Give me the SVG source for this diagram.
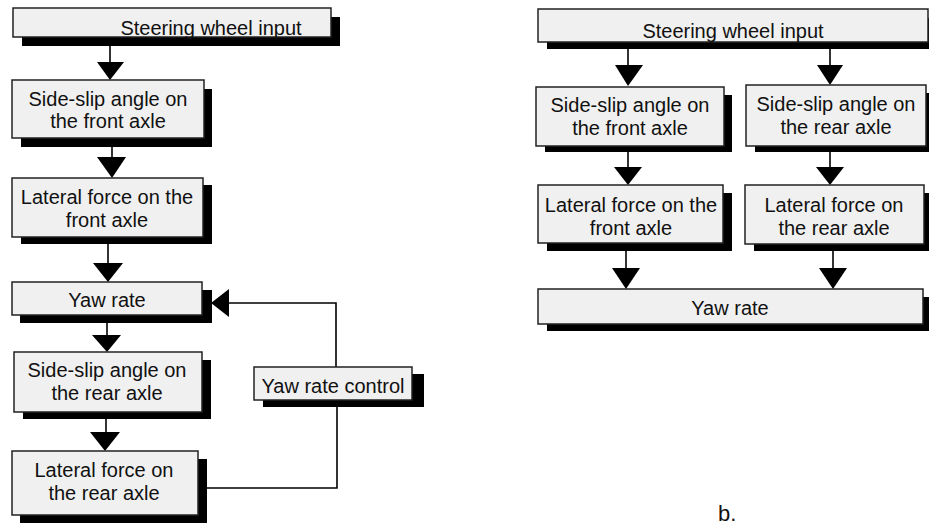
<svg xmlns="http://www.w3.org/2000/svg" width="929" height="527" viewBox="0 0 929 527">
<style>
.sh{fill:#000}
.bx{fill:#f0f0f0;stroke:#222;stroke-width:1.5}
.t{font-family:"Liberation Sans",Arial,sans-serif;font-size:20px;text-anchor:middle;fill:#111}
.ln{fill:none;stroke:#000;stroke-width:1.6}
.ah{fill:#000}
</style>
<rect width="929" height="527" fill="#fff"/>
<g id="connectors">
<line class="ln" x1="110" y1="37" x2="110" y2="63"/><polygon class="ah" points="97,62 124,62 110,80"/>
<line class="ln" x1="112" y1="138" x2="112" y2="158"/><polygon class="ah" points="97,157 126,157 112,178"/>
<line class="ln" x1="108" y1="237" x2="108" y2="264"/><polygon class="ah" points="93,263 123,263 108,282"/>
<line class="ln" x1="107" y1="315" x2="107" y2="336"/><polygon class="ah" points="92,335 121,335 107,352"/>
<line class="ln" x1="106" y1="412" x2="106" y2="433"/><polygon class="ah" points="90,432 120,432 105,451"/>
<polyline class="ln" points="229,303 336,303 336,367"/><polygon class="ah" points="211,303 229,289 229,317"/>
<polyline class="ln" points="337,400 337,488 207,488"/>
<line class="ln" x1="628" y1="42" x2="628" y2="66"/><polygon class="ah" points="615,65 643,65 628,86"/>
<line class="ln" x1="830" y1="49" x2="830" y2="66"/><polygon class="ah" points="817,65 843,65 830,85"/>
<line class="ln" x1="628" y1="146" x2="628" y2="168"/><polygon class="ah" points="614,167 642,167 628,185"/>
<line class="ln" x1="830" y1="146" x2="830" y2="168"/><polygon class="ah" points="816,167 844,167 830,185"/>
<line class="ln" x1="626" y1="243" x2="626" y2="269"/><polygon class="ah" points="612,268 640,268 626,289"/>
<line class="ln" x1="833" y1="251" x2="833" y2="269"/><polygon class="ah" points="819,268 847,268 833,289"/>
</g>
<g id="a-steering">
<rect class="sh" x="22" y="17" width="318" height="29"/>
<rect class="bx" x="13" y="8" width="318" height="29"/>
<text class="t" x="211" y="35">Steering wheel input</text>
</g>
<g id="a-slip-front">
<rect class="sh" x="21" y="89" width="191" height="58"/>
<rect class="bx" x="12" y="80" width="192" height="58"/>
<text class="t" x="108" y="106">Side-slip angle on</text>
<text class="t" x="108" y="128">the front axle</text>
</g>
<g id="a-force-front">
<rect class="sh" x="21" y="185" width="191" height="59"/>
<rect class="bx" x="12" y="178" width="191" height="59"/>
<text class="t" x="107" y="204">Lateral force on the</text>
<text class="t" x="107" y="227">front axle</text>
</g>
<g id="a-yaw">
<rect class="sh" x="20" y="290" width="192" height="33"/>
<rect class="bx" x="12" y="282" width="190" height="33"/>
<text class="t" x="107" y="307">Yaw rate</text>
</g>
<g id="a-slip-rear">
<rect class="sh" x="23" y="360" width="188" height="59"/>
<rect class="bx" x="14" y="352" width="188" height="60"/>
<text class="t" x="107" y="377">Side-slip angle on</text>
<text class="t" x="107" y="400">the rear axle</text>
</g>
<g id="a-yaw-control">
<rect class="sh" x="263" y="374" width="161" height="33"/>
<rect class="bx" x="254" y="367" width="158" height="33"/>
<text class="t" x="333" y="393">Yaw rate control</text>
</g>
<g id="a-force-rear">
<rect class="sh" x="20" y="459" width="187" height="64"/>
<rect class="bx" x="12" y="451" width="186" height="64"/>
<text class="t" x="104" y="477">Lateral force on</text>
<text class="t" x="104" y="500">the rear axle</text>
</g>
<g id="b-steering">
<rect class="sh" x="547" y="18" width="390" height="31"/>
<rect class="bx" x="538" y="9" width="390" height="33"/>
<text class="t" x="733" y="38">Steering wheel input</text>
</g>
<g id="b-slip-front">
<rect class="sh" x="545" y="95" width="187" height="57"/>
<rect class="bx" x="536" y="87" width="188" height="59"/>
<text class="t" x="630" y="112">Side-slip angle on</text>
<text class="t" x="630" y="135">the front axle</text>
</g>
<g id="b-slip-rear">
<rect class="sh" x="755" y="93" width="180" height="59"/>
<rect class="bx" x="746" y="85" width="180" height="61"/>
<text class="t" x="836" y="111">Side-slip angle on</text>
<text class="t" x="836" y="134">the rear axle</text>
</g>
<g id="b-force-front">
<rect class="sh" x="547" y="193" width="185" height="58"/>
<rect class="bx" x="538" y="185" width="185" height="58"/>
<text class="t" x="631" y="212">Lateral force on the</text>
<text class="t" x="631" y="235">front axle</text>
</g>
<g id="b-force-rear">
<rect class="sh" x="754" y="193" width="179" height="58"/>
<rect class="bx" x="745" y="185" width="179" height="59"/>
<text class="t" x="834" y="212">Lateral force on</text>
<text class="t" x="834" y="235">the rear axle</text>
</g>
<g id="b-yaw">
<rect class="sh" x="547" y="297" width="385" height="34"/>
<rect class="bx" x="538" y="289" width="385" height="35"/>
<text class="t" x="730" y="315">Yaw rate</text>
</g>
<text x="718" y="521" style="font-family:'Liberation Sans',Arial,sans-serif;font-size:22px;fill:#111">b.</text>
</svg>
